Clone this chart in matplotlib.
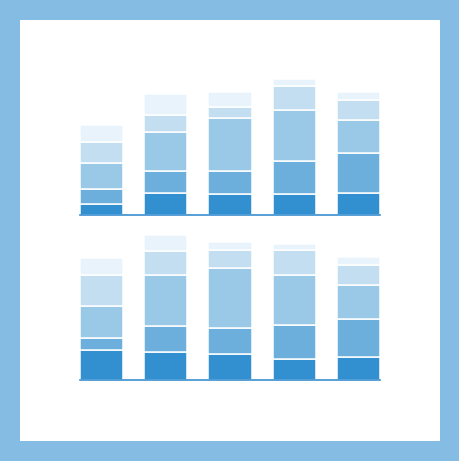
import numpy as np
import matplotlib
matplotlib.use("Agg")
from matplotlib import pyplot as plt
from matplotlib.patches import Rectangle

categories = ["A", "B", "C", "D", "E"]

# top chart, segments from bottom to top
top_s1 = [32, 67, 62, 62, 67]
top_s2 = [45, 66, 71, 101, 118]
top_s3 = [80, 117, 159, 152, 100]
top_s4 = [63, 50, 31, 73, 59]
top_s5 = [50, 63, 47, 19, 26]

# bottom chart
bot_s1 = [90, 84, 77, 62, 68]
bot_s2 = [37, 79, 79, 102, 116]
bot_s3 = [95, 152, 181, 151, 102]
bot_s4 = [93, 72, 52, 74, 59]
bot_s5 = [50, 48, 26, 19, 25]

colors = ["#3390d0", "#6cafdd", "#9ac8e7", "#c3def1", "#e9f3fb"]
border = "#85bce3"

W, H = 460, 461
fig = plt.figure(figsize=(W / 100, H / 100), dpi=100)
fig.patch.set_facecolor(border)

# white panel inside the border
bg = fig.add_axes([0, 0, 1, 1], zorder=-1)
bg.set_xlim(0, W)
bg.set_ylim(H, 0)
bg.add_patch(Rectangle((20, 20), 420, 421, facecolor="white", edgecolor="none"))
bg.axis("off")


def draw(ax, series):
    x = np.arange(len(categories))
    bottom = np.zeros(len(categories))
    for vals, c in zip(series, colors):
        ax.bar(x, vals, width=0.67, bottom=bottom, color=c,
               edgecolor="white", linewidth=1.1)
        bottom += np.array(vals)
    ax.axhline(0, color="#3a8fd0", linewidth=1.2, zorder=5, clip_on=False)
    ax.set_xlim(-0.335, len(categories) - 1 + 0.335)
    ax.set_ylim(0, 435)
    ax.axis("off")


ax1 = fig.add_axes([80 / W, (H - 215) / H, 300 / W, 145 / H])
draw(ax1, [top_s1, top_s2, top_s3, top_s4, top_s5])

ax2 = fig.add_axes([80 / W, (H - 380) / H, 300 / W, 145 / H])
draw(ax2, [bot_s1, bot_s2, bot_s3, bot_s4, bot_s5])

fig.savefig("out.png", dpi=100)
